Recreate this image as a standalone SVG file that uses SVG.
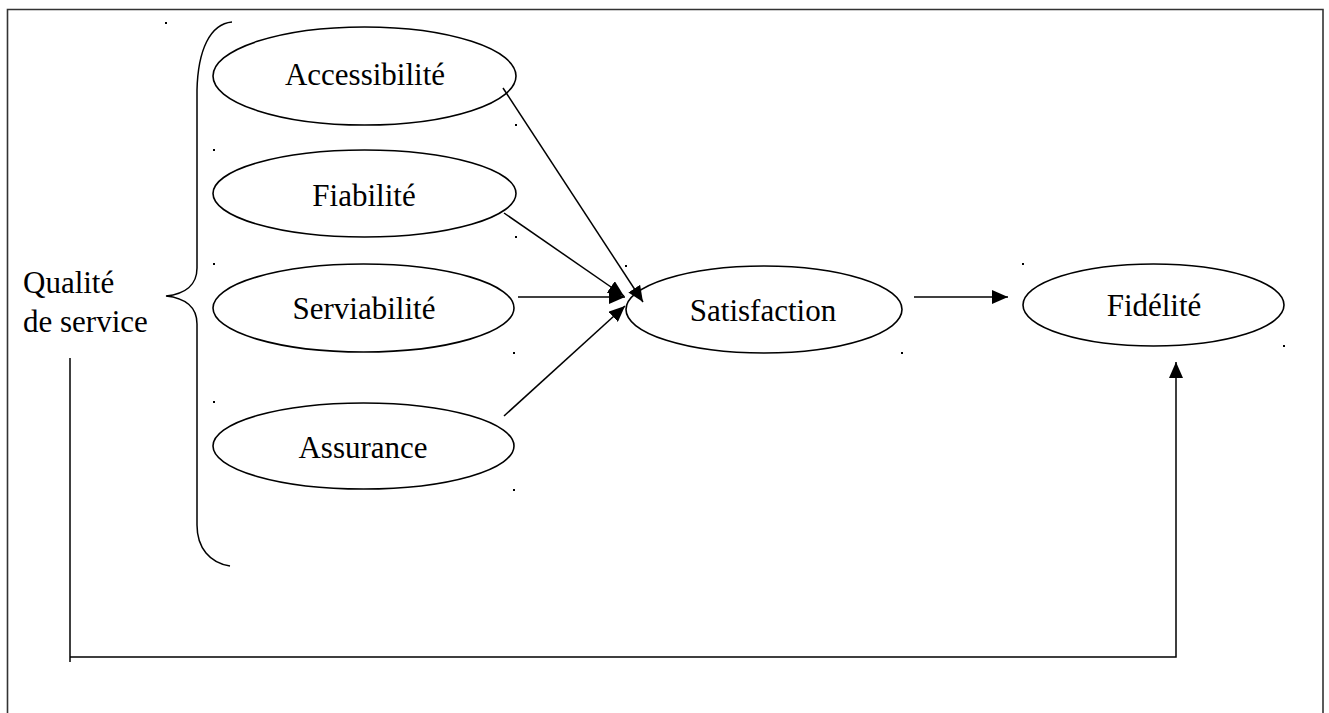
<svg xmlns="http://www.w3.org/2000/svg" width="1329" height="713" viewBox="0 0 1329 713">
<style>
  .node ellipse { fill: #fff; stroke: #000; stroke-width: 1.6; }
  .lbl { font-family: "Liberation Serif", "Times New Roman", serif; font-size: 31px; fill: #000; }
  .c { text-anchor: middle; }
  .conn { fill: none; stroke: #000; stroke-width: 1.5; }
  .dot { fill: #000; }
</style>
<defs>
  <marker id="arr" viewBox="0 0 16 14" refX="16" refY="7" markerWidth="16" markerHeight="14" markerUnits="userSpaceOnUse" orient="auto">
    <path d="M0,0 L16,7 L0,14 z" fill="#000"/>
  </marker>
</defs>
<rect width="1329" height="713" fill="#fff"/>
<path d="M7.5,720 V9.5 H1323 V720" fill="none" stroke="#333" stroke-width="1.6"/>

<g id="qualite">
  <text class="lbl" x="23" y="293">Qualité</text>
  <text class="lbl" x="23" y="332">de service</text>
  <path class="conn" d="M232,22 C210,24 198,50 197,90 L197,268 C197,285 185,294 166,296 C185,298 197,307 197,324 L197,525 C197,548 210,563 230,566"/>
</g>

<g id="accessibilite" class="node">
  <ellipse cx="364.5" cy="76" rx="151.5" ry="49"/>
  <text class="lbl c" x="365" y="85">Accessibilité</text>
</g>
<g id="fiabilite" class="node">
  <ellipse cx="364.5" cy="193.5" rx="151.5" ry="43.5"/>
  <text class="lbl c" x="364" y="206">Fiabilité</text>
</g>
<g id="serviabilite" class="node">
  <ellipse cx="363.5" cy="308" rx="150.5" ry="44"/>
  <text class="lbl c" x="364" y="319">Serviabilité</text>
</g>
<g id="assurance" class="node">
  <ellipse cx="363.5" cy="446" rx="150.5" ry="43"/>
  <text class="lbl c" x="363" y="458">Assurance</text>
</g>
<g id="satisfaction" class="node">
  <ellipse cx="764" cy="309.5" rx="138" ry="43.5"/>
  <text class="lbl c" x="763" y="321">Satisfaction</text>
</g>
<g id="fidelite" class="node">
  <ellipse cx="1153.5" cy="305" rx="130.5" ry="41"/>
  <text class="lbl c" x="1154" y="316">Fidélité</text>
</g>

<g id="connectors">
  <line class="conn" x1="503" y1="88" x2="643" y2="302" marker-end="url(#arr)"/>
  <line class="conn" x1="504" y1="213" x2="624" y2="296" marker-end="url(#arr)"/>
  <line class="conn" x1="518" y1="297" x2="625" y2="297" marker-end="url(#arr)"/>
  <line class="conn" x1="504" y1="416" x2="625" y2="306" marker-end="url(#arr)"/>
  <line class="conn" x1="914" y1="297" x2="1008" y2="297" marker-end="url(#arr)"/>
  <path class="conn" d="M70,358 V662"/>
  <path class="conn" d="M70,657 H1176 V362" marker-end="url(#arr)"/>
</g>

<g id="dots">
  <rect class="dot" x="165" y="22" width="2" height="2"/>
  <rect class="dot" x="515" y="124" width="2" height="2"/>
  <rect class="dot" x="213" y="149" width="2" height="2"/>
  <rect class="dot" x="515" y="236" width="2" height="2"/>
  <rect class="dot" x="213" y="263" width="2" height="2"/>
  <rect class="dot" x="513" y="352" width="2" height="2"/>
  <rect class="dot" x="213" y="401" width="2" height="2"/>
  <rect class="dot" x="513" y="489" width="2" height="2"/>
  <rect class="dot" x="625" y="265" width="2" height="2"/>
  <rect class="dot" x="901" y="352" width="2" height="2"/>
  <rect class="dot" x="1022" y="263" width="2" height="2"/>
  <rect class="dot" x="1283" y="345" width="2" height="2"/>
</g>
</svg>
